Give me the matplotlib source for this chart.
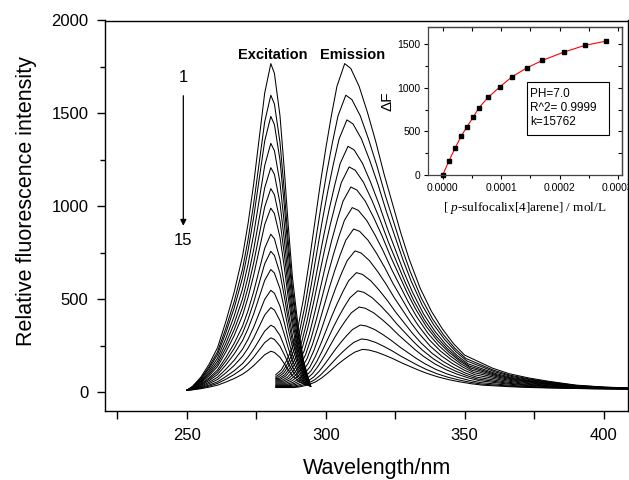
import matplotlib
matplotlib.use("Agg")
import matplotlib.pyplot as plt
import numpy as np
from matplotlib.ticker import MultipleLocator, FormatStrFormatter, NullFormatter
from matplotlib.patches import Rectangle

plt.rcParams['font.family'] = ['Liberation Sans', 'DejaVu Sans']
plt.rcParams['mathtext.fontset'] = 'custom'
plt.rcParams['mathtext.rm'] = 'Liberation Serif'
plt.rcParams['mathtext.it'] = 'Liberation Serif:italic'

# excitation profile of curve 1 (normalised)
ex_wl = [250, 252, 255, 258, 261, 264, 267, 270, 272, 274, 276, 278, 280.2,
         281.5, 283.5, 285, 286.5, 288, 290, 292, 294.5]
ex_shape = [0.0, 0.012, 0.04, 0.08, 0.13, 0.21, 0.30, 0.41, 0.51, 0.63, 0.77,
            0.91, 1.0, 0.97, 0.84, 0.68, 0.50, 0.34, 0.19, 0.08, 0.0]
ex_floor = [10, 10, 10, 10, 10, 10, 10, 10, 10, 10, 10, 10, 10,
            12, 14, 16, 18, 21, 25, 29, 32]
ex_peak = [1768, 1598, 1484, 1339, 1208, 1095, 990, 850, 758, 660, 548, 455,
           360, 292, 220]

# emission profile of curve 1 (normalised), peak at 306.8 nm
em_wl = [282, 284, 286, 288, 290, 292, 294, 296, 298, 300, 302, 304, 306.8,
         309, 312, 315, 318, 321, 324, 327, 330, 334, 338, 342, 346, 350, 355,
         360, 366, 373, 380, 390, 400, 410]
em_shape = [0.045, 0.06, 0.09, 0.13, 0.19, 0.28, 0.39, 0.51, 0.63, 0.74, 0.84,
            0.93, 1.0, 0.985, 0.93, 0.85, 0.76, 0.66, 0.57, 0.48, 0.40, 0.31,
            0.24, 0.185, 0.14, 0.105, 0.085, 0.065, 0.048, 0.035, 0.025,
            0.013, 0.007, 0.004]
em_floor = 15
em_peak = [1768, 1598, 1465, 1323, 1212, 1104, 993, 878, 760, 643, 545, 458,
           361, 286, 230]
em_pos = [306.8, 307.2, 307.6, 308.0, 308.4, 309.0, 309.5, 310.0, 310.5,
          311.0, 311.5, 312.0, 312.4, 312.8, 313.2]

# inset: titration points
conc = [0.0, 0.108e-4, 0.21e-4, 0.313e-4, 0.416e-4, 0.519e-4, 0.621e-4,
        0.776e-4, 0.981e-4, 1.186e-4, 1.443e-4, 1.706e-4, 2.07e-4, 2.43e-4,
        2.79e-4]
dF = [0, 164, 305, 443, 553, 660, 771, 889, 1011, 1126, 1229, 1313, 1408,
      1485, 1534]

fig = plt.figure(figsize=(6.29, 4.80), dpi=100)
ax = fig.add_axes([105 / 629, 1 - 410.7 / 480, 523 / 629, 390.2 / 480])

ex_wl_a = np.array(ex_wl)
ex_shape_a = np.array(ex_shape)
ex_floor_a = np.array(ex_floor)
em_wl_a = np.array(em_wl)
em_shape_a = np.array(em_shape)

for i in range(15):
    y_ex = ex_floor_a + (ex_peak[i] - ex_floor_a) * ex_shape_a
    ax.plot(ex_wl_a, y_ex, color='black', lw=0.75)
    shift = em_pos[i] - 306.8
    xs = em_wl_a + shift
    ys = em_floor + (em_peak[i] - em_floor) * em_shape_a
    xs = np.concatenate([[282], xs])
    ys = np.concatenate([[ys[0]], ys])
    ax.plot(xs, ys, color='black', lw=0.75)

ax.set_xlim(220.5, 408.8)
ax.set_ylim(-100, 2000)
ax.xaxis.set_major_locator(MultipleLocator(50))
ax.xaxis.set_minor_locator(MultipleLocator(25))
ax.yaxis.set_major_locator(MultipleLocator(500))
ax.yaxis.set_minor_locator(MultipleLocator(250))
ax.tick_params(which='both', direction='out', width=1, top=False, right=False)
ax.tick_params(axis='y', which='major', length=6, labelsize=12, pad=6)
ax.tick_params(axis='y', which='minor', length=3.5)
ax.tick_params(axis='x', which='major', length=5.5, labelsize=12, pad=7)
ax.tick_params(axis='x', which='minor', length=5.5)
for s in ax.spines.values():
    s.set_linewidth(1.0)

ax.set_xlabel('Wavelength/nm', fontsize=15.5)
ax.xaxis.set_label_coords(0.52, -0.12)
ax.set_ylabel('Relative fluorescence intensity', fontsize=15.5)
ax.yaxis.set_label_coords(-0.13, 0.537)

ax.text(280.8, 1817, 'Excitation', fontsize=10.5, fontweight='bold',
        ha='center', va='center')
ax.text(309.5, 1817, 'Emission', fontsize=10.5, fontweight='bold',
        ha='center', va='center')
ax.text(248.7, 1693, '1', fontsize=12, ha='center', va='center')
ax.text(248.7, 814, '15', fontsize=12, ha='center', va='center')
ax.annotate('', xy=(248.7, 880), xytext=(248.7, 1610),
            arrowprops=dict(arrowstyle='-|>', color='black', lw=0.9,
                            mutation_scale=9))

# inset
ax2 = fig.add_axes([428.3 / 629, 1 - 175 / 480, 193.7 / 629, 148.3 / 480])
ax2.plot(conc, dF, color='red', lw=0.8)
ax2.plot(conc, dF, 's', color='black', ms=3.2, clip_on=False)
ax2.set_xlim(-0.247e-4, 3.07e-4)
ax2.set_ylim(0, 1700)
ax2.xaxis.set_major_locator(MultipleLocator(1e-4))
ax2.xaxis.set_minor_locator(MultipleLocator(0.5e-4))
ax2.xaxis.set_major_formatter(FormatStrFormatter('%.4f'))
ax2.yaxis.set_major_locator(MultipleLocator(500))
ax2.yaxis.set_minor_locator(MultipleLocator(250))
ax2.tick_params(which='both', direction='out', width=0.8, labelsize=7.5,
                length=3, pad=2.5)
ax2.tick_params(which='minor', length=2)
for s in ax2.spines.values():
    s.set_linewidth(0.9)
    s.set_color('#444444')

# inward ticks along the top and right of the inset
top = ax2.secondary_xaxis('top')
top.xaxis.set_major_locator(MultipleLocator(0.5e-4))
top.xaxis.set_major_formatter(NullFormatter())
top.tick_params(direction='in', length=3, width=0.8)
top.spines['top'].set_linewidth(0.9)
top.spines['top'].set_color('#444444')
right = ax2.secondary_yaxis('right')
right.yaxis.set_major_locator(MultipleLocator(250))
right.yaxis.set_major_formatter(NullFormatter())
right.tick_params(direction='in', length=3, width=0.8)
right.spines['right'].set_linewidth(0.9)
right.spines['right'].set_color('#444444')

ax2.set_ylabel('ΔF', fontsize=11, labelpad=2)
ax2.set_xlabel(r'[ $\it{p}$-sulfocalix[4]arene] / mol/L', fontsize=9.5,
               family='Liberation Serif', labelpad=5)
ax2.add_patch(Rectangle((0.508, 0.27), 0.427, 0.359, transform=ax2.transAxes,
                        fill=False, edgecolor='black', lw=0.8))
ax2.text(0.525, 0.585, 'PH=7.0\nR^2= 0.9999\nk=15762', transform=ax2.transAxes,
         fontsize=8.5, ha='left', va='top', linespacing=1.2)

fig.savefig('out.png', dpi=100)
